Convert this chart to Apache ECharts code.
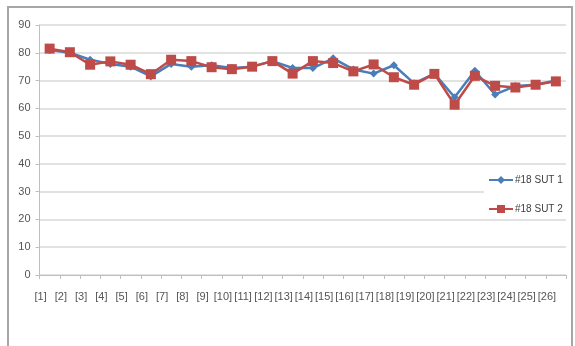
<!DOCTYPE html>
<html>
<head>
<meta charset="utf-8">
<script src="https://cdn.jsdelivr.net/npm/echarts@6/dist/echarts.min.js"></script>
<style>
  html, body { margin: 0; padding: 0; background: #ffffff; }
  #chart { width: 575px; height: 346px; }
</style>
</head>
<body>
<div id="chart"></div>
<script>
// Category labels along the x axis
const categories = ['[1]','[2]','[3]','[4]','[5]','[6]','[7]','[8]','[9]','[10]','[11]','[12]','[13]',
  '[14]','[15]','[16]','[17]','[18]','[19]','[20]','[21]','[22]','[23]','[24]','[25]','[26]'];

// Series values
const sut1 = [81, 80, 77.5, 76, 75, 71.5, 76, 75, 75.5, 74.5, 75, 77, 74.5,
  74.5, 78, 74, 72.5, 75.5, 69, 72.5, 64, 73.5, 65, 68, 68.5, 70];
const sut2 = [81.5, 80.2, 75.7, 76.9, 75.7, 72.3, 77.5, 77, 74.8, 74.1, 75, 77, 72.5,
  77, 76.3, 73.3, 75.8, 71.2, 68.5, 72.4, 61.3, 71.7, 68.1, 67.5, 68.5, 69.7];

const seriesNames = ['#18 SUT 1', '#18 SUT 2'];

const chart = echarts.init(document.getElementById('chart'), null, { renderer: 'canvas' });
const font = '"Liberation Sans Narrow", "Liberation Sans", sans-serif';

chart.setOption({
  backgroundColor: '#ffffff',
  animation: false,
  graphic: [{
    type: 'rect',
    shape: { x: 8, y: 7, width: 564, height: 345 },
    style: { fill: 'none', stroke: '#a6a6a6', lineWidth: 2 },
    z: -1
  }],
  grid: { left: 39.5, right: 9, top: 25, bottom: 71 },
  legend: {
    orient: 'vertical',
    left: 484,
    top: 171,
    itemWidth: 24,
    itemHeight: 10,
    itemGap: 19,
    padding: [4, 4, 4, 4],
    backgroundColor: '#ffffff',
    data: seriesNames,
    textStyle: { fontFamily: font, fontSize: 10, color: '#404040', padding: [0, 0, 0, -3] }
  },
  xAxis: {
    type: 'category',
    data: categories,
    boundaryGap: true,
    axisLine: { lineStyle: { color: '#bfbfbf', width: 1 } },
    axisTick: { show: true, length: 4, lineStyle: { color: '#bfbfbf' } },
    axisLabel: {
      fontFamily: font, fontSize: 11, color: '#555555', margin: 16, interval: 0,
      align: 'center', padding: [0, 18, 0, 0]
    },
    splitLine: { show: false }
  },
  yAxis: {
    type: 'value',
    min: 0,
    max: 90,
    interval: 10,
    axisLine: { show: true, lineStyle: { color: '#bfbfbf', width: 1 } },
    axisTick: { show: true, length: 4, lineStyle: { color: '#bfbfbf' } },
    axisLabel: { fontFamily: font, fontSize: 11, color: '#555555', margin: 9 },
    splitLine: { lineStyle: { color: '#d9d9d9', width: 1.5 } }
  },
  series: [
    {
      name: seriesNames[0],
      type: 'line',
      data: sut1,
      symbol: 'diamond',
      symbolSize: 8,
      lineStyle: { color: '#4a7ebb', width: 2.5 },
      itemStyle: { color: '#4a7ebb' },
      z: 2
    },
    {
      name: seriesNames[1],
      type: 'line',
      data: sut2,
      symbol: 'rect',
      symbolSize: 10,
      lineStyle: { color: '#be4b48', width: 2.5 },
      itemStyle: { color: '#be4b48' },
      z: 3
    }
  ]
});
</script>
</body>
</html>
